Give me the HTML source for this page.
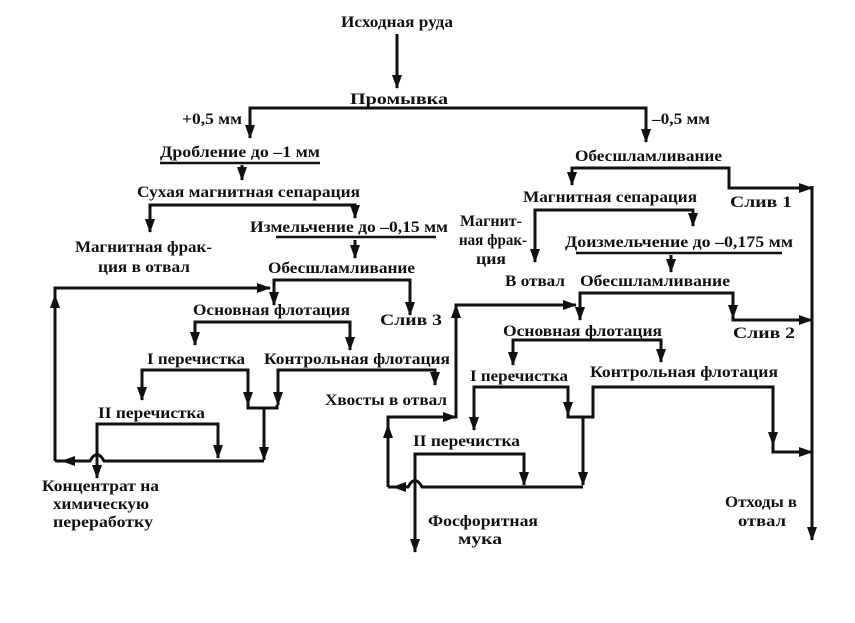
<!DOCTYPE html>
<html><head><meta charset="utf-8"><style>
html,body{margin:0;padding:0;background:#fff;}
svg{display:block;}
text{font-family:"Liberation Serif","DejaVu Serif",serif;font-size:16px;font-weight:bold;fill:#111;}
</style></head><body>
<svg width="855" height="623" viewBox="0 0 855 623" xmlns="http://www.w3.org/2000/svg">
<defs>
<marker id="a" markerUnits="userSpaceOnUse" markerWidth="14" markerHeight="10" refX="13" refY="5" orient="auto">
<path d="M0,0 L14,5 L0,10 Z" fill="#111"/></marker>
</defs>
<g fill="none" stroke="#111" stroke-width="3" stroke-linejoin="miter">
<path d="M397,34 V88" marker-end="url(#a)"/>
<path d="M250,138 V108 H646 V142" />
<path d="M250,120 V138" marker-end="url(#a)"/>
<path d="M646,120 V142" marker-end="url(#a)"/>
<path d="M160,163 H320" stroke-width="2.5"/>
<path d="M242,165 V180" marker-end="url(#a)"/>
<path d="M150,232 V205 H355 V218" marker-end="url(#a)"/>
<path d="M150,215 V232" marker-end="url(#a)"/>
<path d="M276,237 H436" stroke-width="2.5"/>
<path d="M355,240 V258" marker-end="url(#a)"/>
<path d="M274,305 V280 H410 V315" marker-end="url(#a)"/>
<path d="M274,290 V305" marker-end="url(#a)"/>
<path d="M55,461 V288 H270" marker-end="url(#a)"/>
<path d="M55,320 V295" marker-end="url(#a)"/>
<path d="M195,345 V322 H350 V350" marker-end="url(#a)"/>
<path d="M195,330 V345" marker-end="url(#a)"/>
<path d="M142,400 V370 H248 V405" marker-end="url(#a)"/>
<path d="M142,380 V400" marker-end="url(#a)"/>
<path d="M248,400 V408 H277 V405"/>
<path d="M278,405 V370 H435 V385" marker-end="url(#a)"/>
<path d="M278,385 V405" marker-end="url(#a)"/>
<path d="M264,408 V460" marker-end="url(#a)"/>
<path d="M97,478 V424 H218 V458" marker-end="url(#a)"/>
<path d="M97,465 V478" marker-end="url(#a)"/>
<path d="M264,461 H104 Q97,448 90,461 H55"/>
<path d="M85,461 H62" marker-end="url(#a)"/>
<path d="M572,185 V168 H729 V188 H812" />
<path d="M572,175 V185" marker-end="url(#a)"/>
<path d="M790,188 H812" marker-end="url(#a)"/>
<path d="M812,186 V540" marker-end="url(#a)"/>
<path d="M535,262 V210 H693 V226" marker-end="url(#a)"/>
<path d="M535,245 V262" marker-end="url(#a)"/>
<path d="M576,253 H782" stroke-width="2.5"/>
<path d="M671,255 V272" marker-end="url(#a)"/>
<path d="M580,320 V293 H733 V320 H812"/>
<path d="M580,305 V320" marker-end="url(#a)"/>
<path d="M733,305 V318" marker-end="url(#a)"/>
<path d="M790,320 H812" marker-end="url(#a)"/>
<path d="M388,487 V417 H456 V305 H576" marker-end="url(#a)"/>
<path d="M430,417 H456" marker-end="url(#a)"/>
<path d="M456,330 V305" marker-end="url(#a)"/>
<path d="M388,450 V425" marker-end="url(#a)"/>
<path d="M513,365 V340 H661 V362" marker-end="url(#a)"/>
<path d="M513,350 V365" marker-end="url(#a)"/>
<path d="M474,430 V387 H568 V415" marker-end="url(#a)"/>
<path d="M474,410 V430" marker-end="url(#a)"/>
<path d="M568,410 V417 H593 V387 H773 V452 H812"/>
<path d="M773,430 V445" marker-end="url(#a)"/>
<path d="M790,452 H812" marker-end="url(#a)"/>
<path d="M583,417 V485" marker-end="url(#a)"/>
<path d="M415,550 V454 H524 V485" marker-end="url(#a)"/>
<path d="M415,530 V552" marker-end="url(#a)"/>
<path d="M583,487 H422 Q415,474 408,487 H388"/>
<path d="M405,487 H393" marker-end="url(#a)"/>
</g>
<g>
<text x="341" y="27" textLength="112" lengthAdjust="spacingAndGlyphs">Исходная руда</text>
<text x="350" y="104" textLength="98" lengthAdjust="spacingAndGlyphs">Промывка</text>
<text x="182" y="124" textLength="60" lengthAdjust="spacingAndGlyphs">+0,5 мм</text>
<text x="652" y="124" textLength="58" lengthAdjust="spacingAndGlyphs">–0,5 мм</text>
<text x="160" y="157" textLength="160" lengthAdjust="spacingAndGlyphs">Дробление до –1 мм</text>
<text x="137" y="197" textLength="223" lengthAdjust="spacingAndGlyphs">Сухая магнитная сепарация</text>
<text x="250" y="232" textLength="198" lengthAdjust="spacingAndGlyphs">Измельчение до –0,15 мм</text>
<text x="75" y="252" textLength="137" lengthAdjust="spacingAndGlyphs">Магнитная фрак-</text>
<text x="98" y="272" textLength="92" lengthAdjust="spacingAndGlyphs">ция в отвал</text>
<text x="268" y="273" textLength="147" lengthAdjust="spacingAndGlyphs">Обесшламливание</text>
<text x="380" y="325" textLength="62" lengthAdjust="spacingAndGlyphs">Слив 3</text>
<text x="193" y="315" textLength="157" lengthAdjust="spacingAndGlyphs">Основная флотация</text>
<text x="147" y="364" textLength="98" lengthAdjust="spacingAndGlyphs">I перечистка</text>
<text x="264" y="364" textLength="186" lengthAdjust="spacingAndGlyphs">Контрольная флотация</text>
<text x="325" y="405" textLength="122" lengthAdjust="spacingAndGlyphs">Хвосты в отвал</text>
<text x="98" y="418" textLength="107" lengthAdjust="spacingAndGlyphs">II перечистка</text>
<text x="42" y="491" textLength="117" lengthAdjust="spacingAndGlyphs">Концентрат на</text>
<text x="53" y="509" textLength="96" lengthAdjust="spacingAndGlyphs">химическую</text>
<text x="53" y="527" textLength="100" lengthAdjust="spacingAndGlyphs">переработку</text>
<text x="575" y="161" textLength="147" lengthAdjust="spacingAndGlyphs">Обесшламливание</text>
<text x="730" y="207" textLength="62" lengthAdjust="spacingAndGlyphs">Слив 1</text>
<text x="523" y="202" textLength="174" lengthAdjust="spacingAndGlyphs">Магнитная сепарация</text>
<text x="460" y="226" textLength="62" lengthAdjust="spacingAndGlyphs">Магнит-</text>
<text x="459" y="245" textLength="68" lengthAdjust="spacingAndGlyphs">ная фрак-</text>
<text x="476" y="264" textLength="30" lengthAdjust="spacingAndGlyphs">ция</text>
<text x="505" y="286" textLength="60" lengthAdjust="spacingAndGlyphs">В отвал</text>
<text x="565" y="247" textLength="228" lengthAdjust="spacingAndGlyphs">Доизмельчение до –0,175 мм</text>
<text x="580" y="286" textLength="150" lengthAdjust="spacingAndGlyphs">Обесшламливание</text>
<text x="733" y="338" textLength="62" lengthAdjust="spacingAndGlyphs">Слив 2</text>
<text x="503" y="336" textLength="159" lengthAdjust="spacingAndGlyphs">Основная флотация</text>
<text x="470" y="381" textLength="98" lengthAdjust="spacingAndGlyphs">I перечистка</text>
<text x="590" y="377" textLength="188" lengthAdjust="spacingAndGlyphs">Контрольная флотация</text>
<text x="413" y="446" textLength="107" lengthAdjust="spacingAndGlyphs">II перечистка</text>
<text x="428" y="526" textLength="110" lengthAdjust="spacingAndGlyphs">Фосфоритная</text>
<text x="458" y="544" textLength="44" lengthAdjust="spacingAndGlyphs">мука</text>
<text x="725" y="507" textLength="72" lengthAdjust="spacingAndGlyphs">Отходы в</text>
<text x="738" y="526" textLength="48" lengthAdjust="spacingAndGlyphs">отвал</text>
</g>
</svg>
</body></html>
